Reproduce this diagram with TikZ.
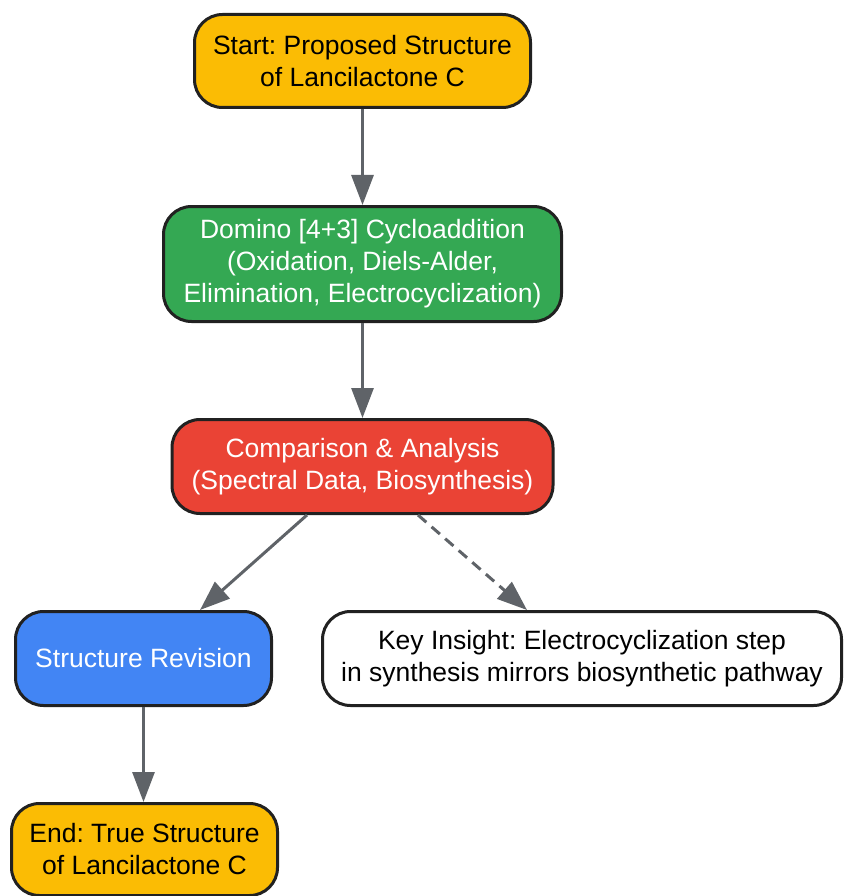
\documentclass[tikz,border=0pt]{standalone}
\usepackage{fontspec}
\setmainfont{Liberation Sans}
\usetikzlibrary{arrows.meta,calc}
\definecolor{cyellow}{HTML}{FBBC04}
\definecolor{cgreen}{HTML}{34A853}
\definecolor{cred}{HTML}{EA4335}
\definecolor{cblue}{HTML}{4285F4}
\definecolor{cborder}{HTML}{212121}
\definecolor{carrow}{HTML}{5F6368}
\frenchspacing
\tikzset{
  box/.style={draw=cborder, line width=3pt, rounded corners=28pt, align=center,
    font=\fontsize{26.5}{32}\selectfont\frenchspacing, inner sep=0pt},
  conn/.style={draw=carrow, line width=3pt, -{Triangle[length=30pt,width=22pt]}},
  dconn/.style={conn, dash pattern=on 11pt off 7pt},
}
\begin{document}
\begin{tikzpicture}[x=1pt,y=-1pt]
\useasboundingbox (0,0) rectangle (844,896);
\node[box, fill=cyellow, text=black, minimum width=336pt, minimum height=93pt] (start) at (362.5,61) {Start: Proposed Structure\\of Lancilactone C};
\node[box, fill=cgreen, text=white, minimum width=398pt, minimum height=115pt] (dom) at (362.5,264) {Domino [4+3] Cycloaddition\\(Oxidation, Diels-Alder,\\Elimination, Electrocyclization)};
\node[box, fill=cred, text=white, minimum width=381pt, minimum height=94pt] (cmp) at (362.5,466.5) {Comparison \& Analysis\\(Spectral Data, Biosynthesis)};
\node[box, fill=cblue, text=white, minimum width=256pt, minimum height=94pt] (rev) at (143.5,658.5) {Structure Revision};
\node[box, fill=white, text=black, minimum width=519pt, minimum height=94pt] (ins) at (582,658.5) {Key Insight: Electrocyclization step\\in synthesis mirrors biosynthetic pathway};
\node[box, fill=cyellow, text=black, minimum width=266pt, minimum height=92pt] (end) at (144.5,849.5) {End: True Structure\\of Lancilactone C};
\draw[conn] (start.south) -- (dom.north);
\draw[conn] (dom.south) -- (cmp.north);
\draw[conn] ($(cmp.south)+(-55.5,0)$) -- ($(rev.north)+(56.5,0)$);
\draw[dconn] ($(cmp.south)+(55.5,0)$) -- ($(ins.north)+(-55,0)$);
\draw[conn] (rev.south) -- (rev.south |- end.north);
\end{tikzpicture}
\end{document}
